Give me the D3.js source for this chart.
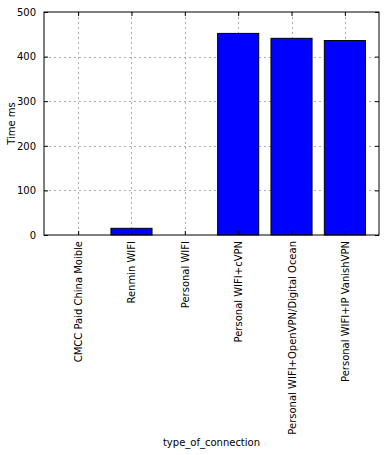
<!DOCTYPE html>
<html>
<head>
<meta charset="utf-8">
<script src="https://cdn.jsdelivr.net/npm/d3@7"></script>
<style>
  body { margin: 0; background: #fff; }
  text { font-family: "DejaVu Sans", sans-serif; font-size: 10px; fill: #000; }
</style>
</head>
<body>
<svg id="chart" width="386" height="455"></svg>
<script>
const categories = ["CMCC Paid China Moible", "Renmin WIFI", "Personal WIFI",
  "Personal WIFI+cVPN", "Personal WIFI+OpenVPN/Digital Ocean", "Personal WIFI+IP VanishVPN"];
const timeMs = [0, 15, 0, 452, 441, 436];
const yTicks = [0, 100, 200, 300, 400, 500];

const svg = d3.select("#chart");
const margin = {top: 12, right: 7, bottom: 220, left: 44};
const width = +svg.attr("width") - margin.left - margin.right;
const height = +svg.attr("height") - margin.top - margin.bottom;

svg.append("rect").attr("width", 386).attr("height", 455).attr("fill", "#fff");

const x = d3.scaleLinear().domain([-0.64, categories.length - 1 + 0.64]).range([0, width]);
const y = d3.scaleLinear().domain([0, 500]).range([height, 0]);
const barW = x(0.77) - x(0);

const g = svg.append("g")
    .attr("transform", "translate(" + margin.left + "," + margin.top + ")");

// grid
g.append("g").selectAll("line")
    .data(categories.map((d, i) => i))
  .enter().append("line")
    .attr("x1", d => Math.round(x(d)) + 0.5).attr("x2", d => Math.round(x(d)) + 0.5)
    .attr("y1", 0).attr("y2", height)
    .attr("stroke", "#999").attr("stroke-width", 0.8).attr("stroke-dasharray", "2,3");
g.append("g").selectAll("line")
    .data(yTicks.slice(1, -1))
  .enter().append("line")
    .attr("x1", 0).attr("x2", width)
    .attr("y1", d => Math.round(y(d)) + 0.5).attr("y2", d => Math.round(y(d)) + 0.5)
    .attr("stroke", "#999").attr("stroke-width", 0.8).attr("stroke-dasharray", "2,3");

// bars
g.selectAll(".bar")
    .data(timeMs)
  .enter().append("rect")
    .attr("class", "bar")
    .attr("x", (d, i) => x(i) - barW / 2)
    .attr("y", d => y(d))
    .attr("width", barW)
    .attr("height", d => height - y(d))
    .attr("fill", "#0000ff")
    .attr("stroke", "#000")
    .attr("stroke-width", 1)
    .attr("display", d => d > 0 ? null : "none");

// axes with inward ticks
const yAxisL = g.append("g")
    .call(d3.axisLeft(y).tickValues(yTicks).tickSizeInner(-4).tickSizeOuter(0).tickPadding(8));
const yAxisR = g.append("g")
    .attr("transform", "translate(" + width + ",0)")
    .call(d3.axisRight(y).tickValues(yTicks).tickSizeInner(-4).tickSizeOuter(0).tickFormat(""));
const xAxisB = g.append("g")
    .attr("transform", "translate(0," + height + ")")
    .call(d3.axisBottom(x).tickValues(categories.map((d, i) => i)).tickSizeInner(-4).tickSizeOuter(0)
      .tickFormat(i => categories[i]));
const xAxisT = g.append("g")
    .call(d3.axisTop(x).tickValues(categories.map((d, i) => i)).tickSizeInner(-4).tickSizeOuter(0).tickFormat(""));

[yAxisL, yAxisR, xAxisB, xAxisT].forEach(a => {
  a.select(".domain").remove();
  a.selectAll("line").attr("stroke", "#000");
  a.selectAll("text").style("font-family", "'DejaVu Sans', sans-serif").style("font-size", "10px");
});

xAxisB.selectAll("text")
    .attr("transform", "rotate(-90)")
    .attr("text-anchor", "end")
    .attr("x", -6)
    .attr("y", 0)
    .attr("dy", "0.35em");

// frame
g.append("rect")
    .attr("x", 0).attr("y", 0).attr("width", width).attr("height", height)
    .attr("fill", "none").attr("stroke", "#000").attr("stroke-width", 1);

svg.append("text")
    .attr("transform", "translate(15," + (margin.top + height / 2) + ") rotate(-90)")
    .attr("text-anchor", "middle")
    .text("Time ms");

svg.append("text")
    .attr("x", margin.left + width / 2)
    .attr("y", 446)
    .attr("text-anchor", "middle")
    .text("type_of_connection");
</script>
</body>
</html>
